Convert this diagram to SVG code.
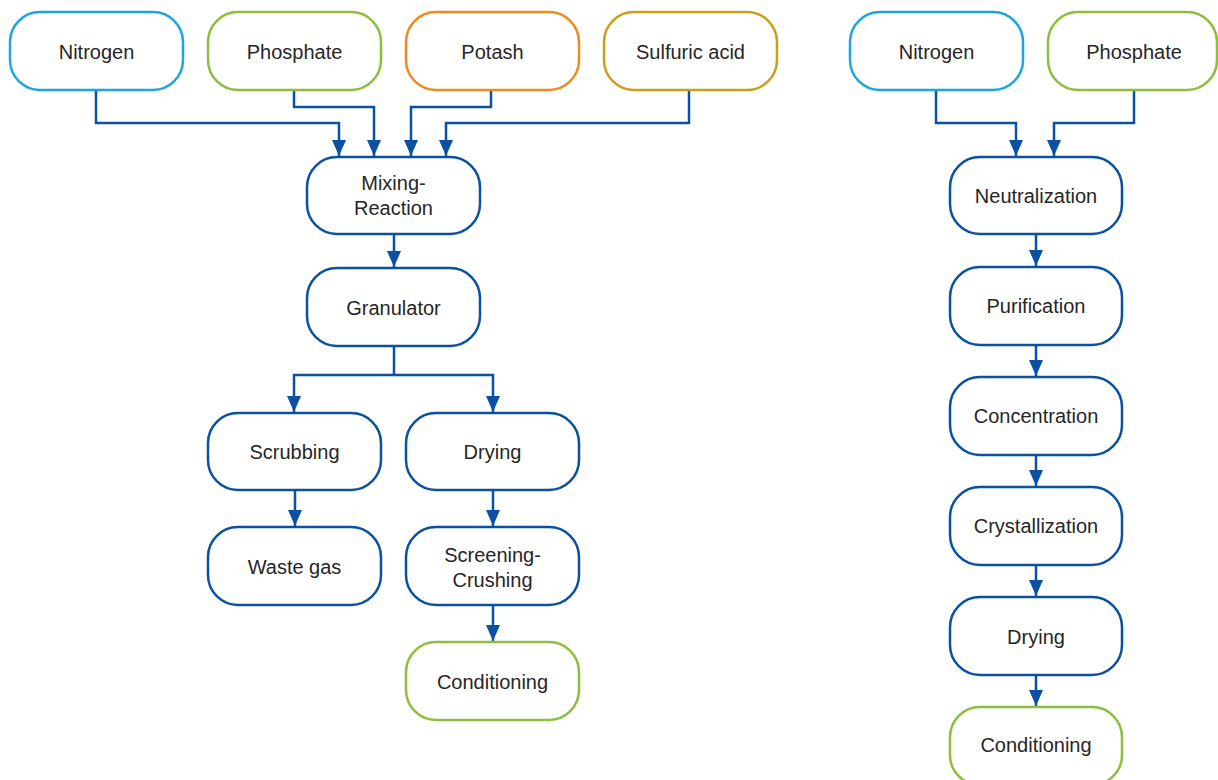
<svg xmlns="http://www.w3.org/2000/svg" width="1218" height="780" viewBox="0 0 1218 780">
<defs>
<marker id="ah" markerUnits="userSpaceOnUse" markerWidth="16" markerHeight="14" viewBox="0 0 16 14" refX="16" refY="7" orient="auto">
<path d="M0,0 L16,7 L0,14 Z" fill="#0a52a1"/>
</marker>
<style>
rect{fill:#fff;stroke-width:2.5}
.b{stroke:#0a52a1}.n{stroke:#1ba5e1}.g{stroke:#8dbe3c}.o{stroke:#f18a1c}.y{stroke:#c9a017}
text{font-family:"Liberation Sans",Arial,sans-serif;font-size:20px;fill:#262626;text-anchor:middle}
.c path{fill:none;stroke:#0a52a1;stroke-width:2.5}
.c path.a{marker-end:url(#ah)}
</style>
</defs>
<rect width="1218" height="780" fill="#fff" stroke="none"/>
<g class="c" id="connectors">
<path class="a" d="M96,91 V123 H339 V156"/>
<path class="a" d="M294,91 V107 H374 V156"/>
<path class="a" d="M491,91 V107 H411 V156"/>
<path class="a" d="M689,91 V123 H446 V156"/>
<path class="a" d="M394,235 V267"/>
<path class="a" d="M394,347 V375 H294 V412"/>
<path class="a" d="M394,375 H493 V412"/>
<path class="a" d="M295,491 V526"/>
<path class="a" d="M493,491 V526"/>
<path class="a" d="M493,606 V641"/>
<path class="a" d="M936,91 V123 H1016 V156"/>
<path class="a" d="M1134,91 V123 H1054 V156"/>
<path class="a" d="M1036,235 V266"/>
<path class="a" d="M1036,345 V376"/>
<path class="a" d="M1036,455 V486"/>
<path class="a" d="M1036,565 V596"/>
<path class="a" d="M1036,675 V706"/>
</g>
<g id="n-nitrogen1"><rect class="n" x="10" y="12" width="173" height="78" rx="30"/><text x="96.5" y="59">Nitrogen</text></g>
<g id="n-phosphate1"><rect class="g" x="208" y="12" width="173" height="78" rx="30"/><text x="294.5" y="59">Phosphate</text></g>
<g id="n-potash"><rect class="o" x="406" y="12" width="173" height="78" rx="30"/><text x="492.5" y="59">Potash</text></g>
<g id="n-sulfuric"><rect class="y" x="604" y="12" width="173" height="78" rx="30"/><text x="690.5" y="59">Sulfuric acid</text></g>
<g id="n-mixing"><rect class="b" x="307" y="157" width="173" height="77" rx="30"/><text x="393.5" y="190">Mixing-</text><text x="393.5" y="215">Reaction</text></g>
<g id="n-granulator"><rect class="b" x="307" y="268" width="173" height="78" rx="30"/><text x="393.5" y="315">Granulator</text></g>
<g id="n-scrubbing"><rect class="b" x="208" y="413" width="173" height="77" rx="30"/><text x="294.5" y="459">Scrubbing</text></g>
<g id="n-drying1"><rect class="b" x="406" y="413" width="173" height="77" rx="30"/><text x="492.5" y="459">Drying</text></g>
<g id="n-waste"><rect class="b" x="208" y="527" width="173" height="78" rx="30"/><text x="294.5" y="574">Waste gas</text></g>
<g id="n-screening"><rect class="b" x="406" y="527" width="173" height="78" rx="30"/><text x="492.5" y="562">Screening-</text><text x="492.5" y="587">Crushing</text></g>
<g id="n-conditioning1"><rect class="g" x="406" y="642" width="173" height="78" rx="30"/><text x="492.5" y="689">Conditioning</text></g>
<g id="n-nitrogen2"><rect class="n" x="850" y="12" width="173" height="78" rx="30"/><text x="936.5" y="59">Nitrogen</text></g>
<g id="n-phosphate2"><rect class="g" x="1048" y="12" width="169" height="78" rx="30"/><text x="1134" y="59">Phosphate</text></g>
<g id="n-neutralization"><rect class="b" x="950" y="157" width="172" height="77" rx="30"/><text x="1036" y="203">Neutralization</text></g>
<g id="n-purification"><rect class="b" x="950" y="267" width="172" height="78" rx="30"/><text x="1036" y="313">Purification</text></g>
<g id="n-concentration"><rect class="b" x="950" y="377" width="172" height="78" rx="30"/><text x="1036" y="423">Concentration</text></g>
<g id="n-crystallization"><rect class="b" x="950" y="487" width="172" height="78" rx="30"/><text x="1036" y="533">Crystallization</text></g>
<g id="n-drying2"><rect class="b" x="950" y="597" width="172" height="78" rx="30"/><text x="1036" y="644">Drying</text></g>
<g id="n-conditioning2"><rect class="g" x="950" y="707" width="172" height="78" rx="30"/><text x="1036" y="752">Conditioning</text></g>
</svg>
